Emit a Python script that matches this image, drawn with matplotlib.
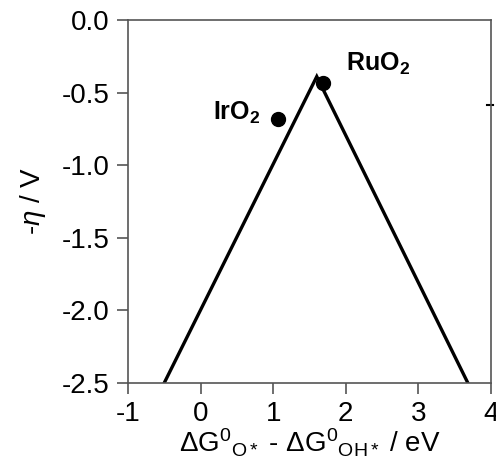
import matplotlib
matplotlib.use('Agg')
import matplotlib.pyplot as plt

# volcano lines
volcano_x = [-0.5, 1.6, 3.68]
volcano_y = [-2.5, -0.39, -2.5]

# catalysts
names = [r'$\mathbf{IrO_2}$', r'$\mathbf{RuO_2}$']
dg = [1.06, 1.69]
eta = [-0.68, -0.435]

plt.rcParams['font.family'] = 'Liberation Sans'
plt.rcParams['axes.unicode_minus'] = False
plt.rcParams['mathtext.fontset'] = 'custom'
plt.rcParams['mathtext.rm'] = 'Liberation Sans'
plt.rcParams['mathtext.it'] = 'Liberation Sans:italic'
plt.rcParams['mathtext.bf'] = 'Liberation Sans:bold'

fig = plt.figure(figsize=(4.96, 4.75), dpi=100)
ax = fig.add_axes([0.258, 0.194, 0.732, 0.764])

ax.plot(volcano_x, volcano_y, color='black', lw=2.4, solid_joinstyle='miter')
ax.plot(dg, eta, 'o', color='black', ms=10)

ax.text(0.83, -0.64, names[0], ha='right', va='center', fontsize=18)
ax.text(2.0, -0.30, names[1], ha='left', va='center', fontsize=18)

# small leftover mark on the right spine
ax.plot([0.99, 1.006], [0.766, 0.766], color='black', lw=1.5,
        transform=ax.transAxes, clip_on=False)

ax.set_xlim(-1, 4)
ax.set_ylim(-2.5, 0)
ax.set_xticks([-1, 0, 1, 2, 3, 4])
ax.set_yticks([0, -0.5, -1.0, -1.5, -2.0, -2.5])
ax.set_yticklabels(['0.0', '-0.5', '-1.0', '-1.5', '-2.0', '-2.5'])

for s in ax.spines.values():
    s.set_color('#555555')
    s.set_linewidth(1.2)
ax.tick_params(direction='out', length=8, width=1.2, color='#555555',
               labelsize=20, pad=5)

ax.set_xlabel(r'$\Delta$G$^{0}{}_{\mathregular{O*}}$ - $\Delta$G$^{0}{}_{\mathregular{OH*}}$ / eV',
              fontsize=20, labelpad=0)
ax.set_ylabel(r'-$\mathit{\eta}$ / V', fontsize=20, labelpad=10)

fig.savefig('out.png', dpi=100)
